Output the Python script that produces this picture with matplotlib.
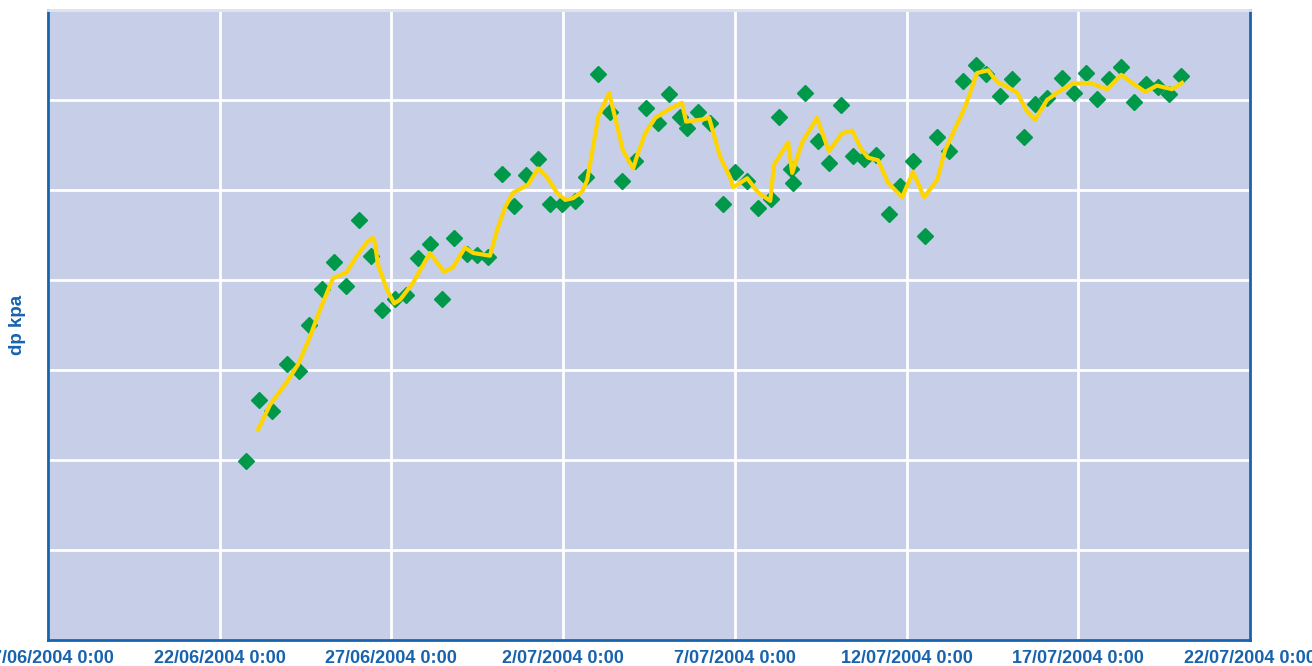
import pandas as pd
import matplotlib
matplotlib.use("Agg")
from matplotlib import pyplot as plt

# days since 17/06/2004 0:00, readings in kpa
scatter_days = [5.77, 6.14, 6.52, 6.96, 7.31, 7.60, 7.98, 8.33, 8.68, 9.06,
                9.41, 9.73, 10.10, 10.43, 10.77, 11.12, 11.47, 11.82, 12.20, 12.49,
                12.81, 13.22, 13.57, 13.92, 14.27, 14.62, 14.97, 15.35, 15.67, 16.02,
                16.37, 16.72, 17.09, 17.41, 17.76, 18.08, 18.40, 18.61, 18.93, 19.28,
                19.66, 20.01, 20.36, 20.68, 21.05, 21.29, 21.64, 21.70, 22.04, 22.42,
                22.74, 23.09, 23.44, 23.76, 24.11, 24.49, 24.81, 25.19, 25.54, 25.89,
                26.24, 26.65, 27.02, 27.32, 27.72, 28.07, 28.42, 28.74, 29.09, 29.53,
                29.88, 30.23, 30.55, 30.90, 31.25, 31.62, 31.97, 32.32, 32.64, 32.99]
scatter_dp = [19.9, 26.7, 25.4, 30.7, 29.9, 35.0, 39.0, 42.0, 39.3, 46.7,
              42.7, 36.7, 37.9, 38.3, 42.4, 44.0, 37.9, 44.7, 42.9, 42.8,
              42.6, 51.8, 48.2, 51.7, 53.4, 48.4, 48.4, 48.8, 51.4, 62.9,
              58.7, 51.0, 53.2, 59.1, 57.4, 60.7, 58.1, 56.9, 58.7, 57.4,
              48.4, 52.0, 51.0, 48.0, 49.0, 58.1, 52.3, 50.8, 60.8, 55.4,
              53.0, 59.4, 53.8, 53.4, 53.9, 47.3, 50.4, 53.2, 44.9, 55.9,
              54.3, 62.1, 63.9, 62.9, 60.4, 62.3, 55.9, 59.6, 60.2, 62.4,
              60.8, 63.0, 60.1, 62.3, 63.7, 59.8, 61.8, 61.4, 60.7, 62.7]

trend_days = [6.12, 6.46, 6.96, 7.28, 7.63, 7.92, 8.30, 8.68, 9.00, 9.29,
              9.46, 9.52, 9.61, 9.87, 10.08, 10.25, 10.63, 11.12, 11.53, 11.79,
              12.14, 12.38, 12.87, 13.08, 13.31, 13.54, 13.74, 13.98, 14.27, 14.53,
              14.82, 15.06, 15.29, 15.55, 15.70, 15.84, 16.02, 16.34, 16.51, 16.74,
              17.04, 17.18, 17.39, 17.68, 18.05, 18.46, 18.58, 18.99, 19.25, 19.37,
              19.57, 19.86, 19.95, 20.36, 20.68, 21.03, 21.14, 21.55, 21.67, 21.96,
              22.39, 22.74, 23.12, 23.41, 23.70, 23.88, 24.17, 24.46, 24.87, 25.19,
              25.51, 25.89, 26.12, 26.70, 27.05, 27.37, 27.64, 27.96, 28.22, 28.51,
              28.74, 29.09, 29.38, 29.82, 30.34, 30.84, 31.25, 31.57, 31.95, 32.29,
              32.73, 33.02]
trend_dp = [23.4, 26.1, 28.7, 30.6, 33.7, 36.7, 40.2, 40.8, 42.7, 44.2,
            44.7, 44.1, 41.7, 38.9, 37.4, 37.8, 39.7, 43.0, 40.9, 41.4,
            43.6, 43.0, 42.7, 45.6, 48.1, 49.7, 50.1, 50.6, 52.4, 51.4,
            49.7, 48.9, 49.1, 49.8, 51.1, 54.1, 58.1, 60.8, 58.1, 54.4,
            52.4, 54.1, 56.3, 58.0, 58.9, 59.7, 57.6, 57.8, 58.0, 56.4,
            53.7, 51.4, 50.3, 51.3, 49.7, 48.8, 52.8, 55.3, 51.9, 55.3,
            58.0, 54.3, 56.3, 56.6, 54.4, 53.6, 53.3, 50.8, 49.2, 52.0,
            49.2, 51.1, 54.4, 59.2, 63.0, 63.3, 62.0, 61.4, 60.8, 58.7,
            57.8, 60.0, 60.8, 61.8, 61.9, 61.2, 62.8, 61.9, 60.9, 61.6,
            61.2, 61.9]

start = pd.Timestamp("2004-06-17")
tick_dates = pd.date_range("2004-06-17", "2004-07-22", freq="5D")
tick_labels = [d.strftime("%d/%m/%Y").lstrip("0") + " 0:00" for d in tick_dates]

blue = "#1763AE"

def main():
    fig = plt.figure(figsize=(13.12, 6.66), dpi=100)
    ax = fig.add_axes([48 / 1312, 26 / 666, 1202 / 1312, 630 / 666])
    ax.set_facecolor("#C7CEE8")

    sx = start + pd.to_timedelta(scatter_days, unit="D")
    tx = start + pd.to_timedelta(trend_days, unit="D")

    ax.plot(sx, scatter_dp, linestyle="none", marker="D", markersize=8,
            color="#00994A", zorder=3)
    ax.plot(tx, trend_dp, color="#FFD500", linewidth=3, zorder=4,
            solid_joinstyle="round")

    ax.set_xlim(tick_dates[0], tick_dates[-1])
    ax.set_ylim(0, 70)
    ax.set_xticks(tick_dates)
    ax.set_xticklabels(tick_labels)
    ax.set_yticks(range(0, 71, 10))
    ax.set_yticklabels([])
    ax.tick_params(axis="both", length=0, pad=7.5)
    for lbl in ax.get_xticklabels():
        lbl.set_fontfamily("Liberation Sans")
        lbl.set_fontweight("bold")
        lbl.set_fontsize(13)
        lbl.set_color(blue)

    ax.grid(True, color="white", linewidth=2)
    ax.set_axisbelow(True)

    for side in ["left", "right", "bottom"]:
        ax.spines[side].set_color(blue)
        ax.spines[side].set_linewidth(2)
    ax.spines["top"].set_color("#DDE1F0")
    ax.spines["top"].set_linewidth(2)

    fig.text(17 / 1312, 1 - 325 / 666, "dp kpa", rotation=90, ha="center",
             va="center", color=blue, fontsize=13.5, fontweight="bold",
             family="Liberation Sans")

    fig.savefig("out.png", dpi=100)


if __name__ == "__main__":
    main()
